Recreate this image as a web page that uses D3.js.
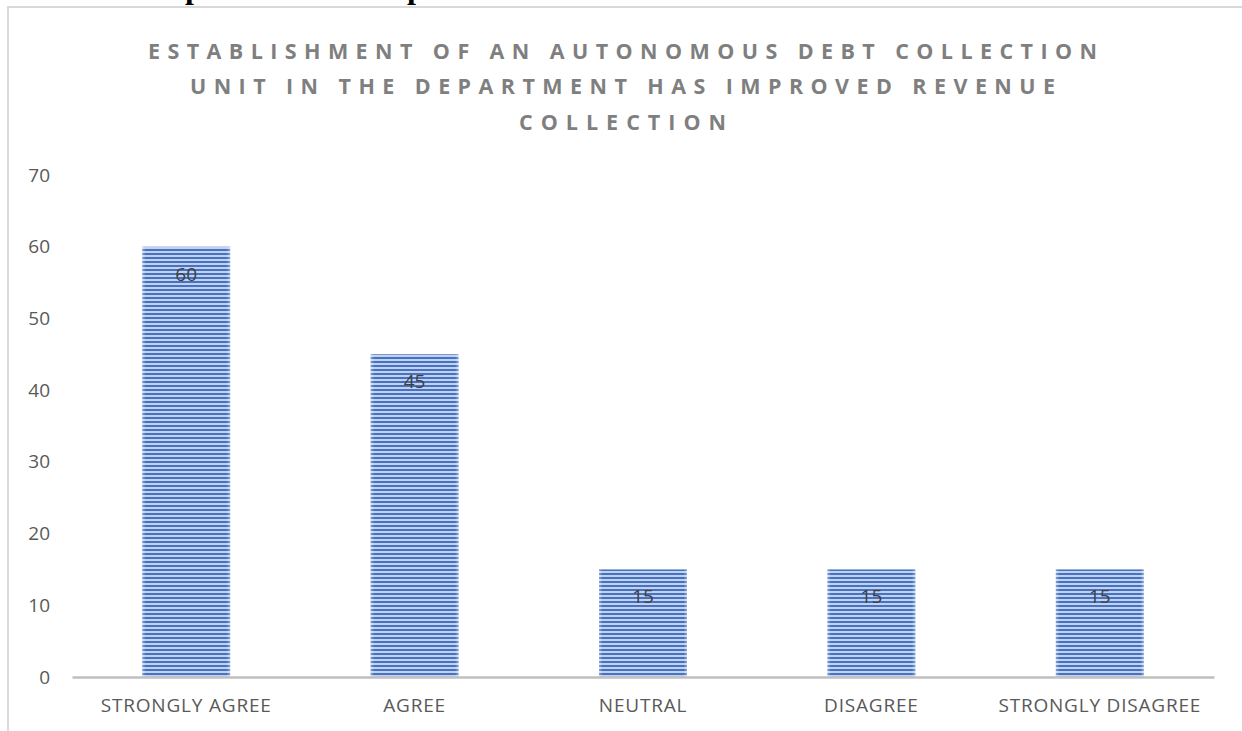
<!DOCTYPE html>
<html>
<head>
<meta charset="utf-8">
<script src="https://cdn.jsdelivr.net/npm/d3@7"></script>
<style>
  html, body { margin: 0; padding: 0; background: #ffffff; }
  svg { display: block; }
</style>
</head>
<body>
<svg id="chart" width="1242" height="731"></svg>
<script>
// Survey responses
const categories = ["STRONGLY AGREE", "AGREE", "NEUTRAL", "DISAGREE", "STRONGLY DISAGREE"];
const responses = [60, 45, 15, 15, 15];
const yTicks = [0, 10, 20, 30, 40, 50, 60, 70];
const titleLines = [
  "ESTABLISHMENT OF AN AUTONOMOUS DEBT COLLECTION",
  "UNIT IN THE DEPARTMENT HAS IMPROVED REVENUE",
  "COLLECTION"
];

const W = 1242, H = 731;
const svg = d3.select("#chart");
const font = "'Open Sans', 'Liberation Sans', sans-serif";

// Striped fill for the bars
const defs = svg.append("defs");
const pat = defs.append("pattern")
  .attr("id", "stripes")
  .attr("patternUnits", "userSpaceOnUse")
  .attr("width", 8).attr("height", 4)
  .attr("y", 1);
pat.append("rect").attr("width", 8).attr("height", 4).attr("fill", "#c3d1ec");
pat.append("rect").attr("width", 8).attr("height", 2).attr("fill", "#4472c4");

// Soft left/right edges on the bars
const edge = defs.append("linearGradient").attr("id", "edge");
edge.append("stop").attr("offset", "0").attr("stop-color", "#fff").attr("stop-opacity", 0.35);
edge.append("stop").attr("offset", "0.04").attr("stop-color", "#fff").attr("stop-opacity", 0);
edge.append("stop").attr("offset", "0.96").attr("stop-color", "#fff").attr("stop-opacity", 0);
edge.append("stop").attr("offset", "1").attr("stop-color", "#fff").attr("stop-opacity", 0.35);

// Heading text from the page above the chart, mostly cut off
svg.append("g")
  .selectAll("text")
  .data([185, 407])
  .join("text")
  .attr("x", d => d)
  .attr("y", -2)
  .attr("font-family", "'Liberation Serif', serif")
  .attr("font-weight", "bold")
  .attr("font-size", 32)
  .attr("fill", "#000")
  .text("p");

// Chart frame
svg.append("path")
  .attr("d", `M8,${H} L8,7 L${W},7`)
  .attr("fill", "none")
  .attr("stroke", "#d9d9d9")
  .attr("stroke-width", 2);

// Title, widely letter-spaced
const title = svg.append("g")
  .attr("font-family", font)
  .attr("font-weight", "bold")
  .attr("font-size", 21.5)
  .attr("fill", "#7f7f7f")
  .attr("text-anchor", "middle");
const titleY = [59, 94, 130];
const titleW = [949, 865, 207];
title.selectAll("text")
  .data(titleLines)
  .join("text")
  .attr("x", 622.5)
  .attr("y", (d, i) => titleY[i])
  .attr("textLength", (d, i) => titleW[i])
  .attr("lengthAdjust", "spacing")
  .text(d => d);

const margin = { left: 72, right: 28, top: 175, bottom: 54 };
const x = d3.scaleBand()
  .domain(categories)
  .range([margin.left, W - margin.right])
  .paddingInner(0.615)
  .paddingOuter(0.3075);
const y = d3.scaleLinear()
  .domain([0, 70])
  .range([H - margin.bottom, margin.top]);

// Y axis labels (no line, no ticks)
const yAxis = svg.append("g")
  .attr("transform", `translate(50,0)`)
  .call(d3.axisLeft(y).tickValues(yTicks).tickSize(0).tickPadding(0));
yAxis.select(".domain").remove();
yAxis.selectAll("text")
  .attr("font-family", font)
  .attr("font-size", 19)
  .attr("fill", "#595959");

// Bars
const bars = svg.append("g");
bars.selectAll("rect.bar")
  .data(responses)
  .join("rect")
  .attr("class", "bar")
  .attr("x", (d, i) => x(categories[i]))
  .attr("y", d => y(d))
  .attr("width", x.bandwidth())
  .attr("height", d => y(0) - y(d))
  .attr("fill", "url(#stripes)");
bars.selectAll("rect.edge")
  .data(responses)
  .join("rect")
  .attr("class", "edge")
  .attr("x", (d, i) => x(categories[i]))
  .attr("y", d => y(d))
  .attr("width", x.bandwidth())
  .attr("height", d => y(0) - y(d))
  .attr("fill", "url(#edge)");

// Value labels
svg.append("g")
  .selectAll("text")
  .data(responses)
  .join("text")
  .attr("x", (d, i) => x(categories[i]) + x.bandwidth() / 2)
  .attr("y", d => y(d) + 34)
  .attr("text-anchor", "middle")
  .attr("font-family", font)
  .attr("font-size", 19)
  .attr("fill", "#404040")
  .text(d => d);

// X axis
const xAxis = svg.append("g")
  .attr("transform", `translate(0,${y(0)})`)
  .call(d3.axisBottom(x).tickSize(0).tickPadding(22));
xAxis.select(".domain")
  .attr("stroke", "#bfbfbf")
  .attr("stroke-width", 2.5);
xAxis.selectAll("text")
  .attr("font-family", font)
  .attr("font-size", 19)
  .attr("letter-spacing", 0.8)
  .attr("fill", "#595959");
</script>
</body>
</html>
